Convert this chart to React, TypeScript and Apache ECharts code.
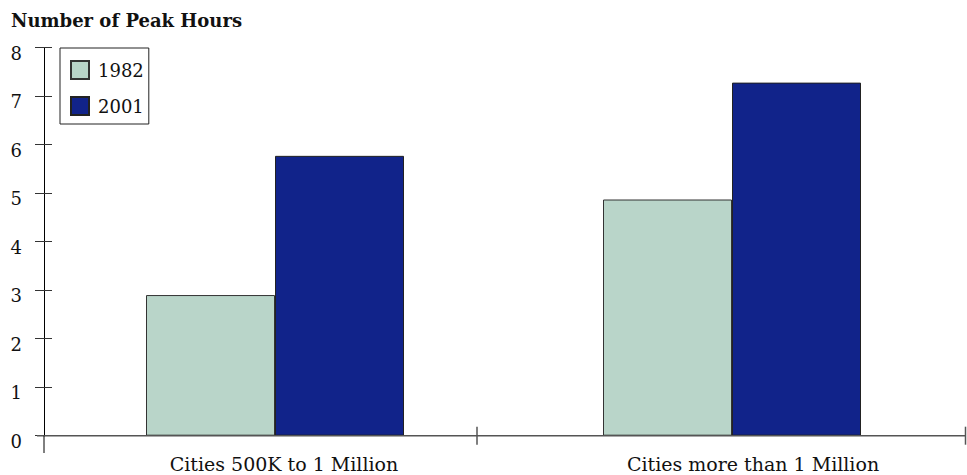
import React, { useEffect, useRef } from 'react';
import * as echarts from 'echarts';

const categories = ['Cities 500K to 1 Million', 'Cities more than 1 Million'];
const seriesNames = ['1982', '2001'];
const values1982 = [2.9, 4.87];
const values2001 = [5.77, 7.28];
const yMin = 0;
const yMax = 8;
const yStep = 1;
const titleText = 'Number of Peak Hours';

const FONT = '"DejaVu Serif", "Liberation Serif", serif';
const COLOR_1982 = '#b9d5c9';
const COLOR_2001 = '#11238a';

export default function App() {
  const ref = useRef<HTMLDivElement>(null);
  useEffect(() => {
    const chart = echarts.init(ref.current!, null, { renderer: 'svg' });
    const zeroY = 435.7;
    chart.setOption({
      animation: false,
      backgroundColor: '#fff',
      title: {
        text: titleText,
        left: 11,
        top: 11,
        padding: 0,
        textStyle: { fontFamily: FONT, fontWeight: 'bold', fontSize: 18, color: '#111' },
      },
      legend: {
        data: seriesNames,
        orient: 'vertical',
        left: 60,
        top: 48,
        padding: [12, 5, 8, 10],
        itemWidth: 18,
        itemHeight: 18,
        itemGap: 16,
        icon: 'rect',
        borderColor: '#222',
        borderWidth: 1,
        backgroundColor: '#fff',
        textStyle: { fontFamily: FONT, fontSize: 18, color: '#111', padding: [0, 0, 0, 4] },
      },
      grid: [
        { left: 46.5, right: 6.5, top: 47.7, bottom: 39.3 },
        { left: 284, right: 214, top: 47.7, bottom: 39.3 },
      ],
      xAxis: [
        {
          type: 'category',
          gridIndex: 0,
          data: categories,
          axisLine: { show: false },
          axisTick: { show: false },
          axisLabel: { show: false },
        },
        {
          type: 'category',
          gridIndex: 1,
          data: categories,
          boundaryGap: false,
          axisLine: { show: false },
          axisTick: { show: false },
          axisLabel: { interval: 0, margin: 19, fontFamily: FONT, fontSize: 19, color: '#111' },
        },
      ],
      yAxis: [
        {
          type: 'value',
          gridIndex: 0,
          position: 'left',
          min: yMin,
          max: yMax,
          interval: yStep,
          offset: 2.5,
          axisLine: { show: true, lineStyle: { color: '#000', width: 1 } },
          axisTick: { show: true, length: 9, lineStyle: { color: '#333' } },
          axisLabel: {
            margin: 22,
            fontFamily: FONT,
            fontSize: 18,
            color: '#111',
            verticalAlign: 'top',
            lineHeight: 11,
          },
          splitLine: { show: false },
        },
        {
          type: 'value',
          gridIndex: 0,
          position: 'left',
          min: yMin,
          max: yMax,
          interval: yStep,
          offset: 2.5,
          axisLine: { show: false },
          axisTick: { show: true, inside: true, length: 8, lineStyle: { color: '#333' } },
          axisLabel: { show: false },
          splitLine: { show: false },
        },
        {
          type: 'value',
          gridIndex: 1,
          min: yMin,
          max: yMax,
          show: false,
        },
      ],
      series: [
        {
          name: seriesNames[0],
          type: 'bar',
          xAxisIndex: 0,
          yAxisIndex: 0,
          data: values1982,
          barWidth: 129,
          barGap: '0%',
          itemStyle: { color: COLOR_1982, borderColor: '#333', borderWidth: 1 },
        },
        {
          name: seriesNames[1],
          type: 'bar',
          xAxisIndex: 0,
          yAxisIndex: 0,
          data: values2001,
          barWidth: 129,
          barGap: '0%',
          itemStyle: { color: COLOR_2001, borderColor: '#222', borderWidth: 1 },
        },
      ],
      graphic: [
        { type: 'line', shape: { x1: 37, y1: zeroY, x2: 966, y2: zeroY }, style: { stroke: '#555', lineWidth: 1.5 }, z: 10 },
        { type: 'line', shape: { x1: 477, y1: zeroY - 9, x2: 477, y2: zeroY + 9 }, style: { stroke: '#555', lineWidth: 1.5 }, z: 10 },
        { type: 'line', shape: { x1: 965.5, y1: zeroY - 9, x2: 965.5, y2: zeroY + 9 }, style: { stroke: '#555', lineWidth: 1.5 }, z: 10 },
        { type: 'line', shape: { x1: 44, y1: zeroY, x2: 44, y2: 453 }, style: { stroke: '#000', lineWidth: 1 }, z: 10 },
      ],
    });
    return () => chart.dispose();
  }, []);
  return (
    <div
      ref={ref}
      style={{ position: 'fixed', left: 0, top: 0, width: 967, height: 475, background: '#fff' }}
    />
  );
}
